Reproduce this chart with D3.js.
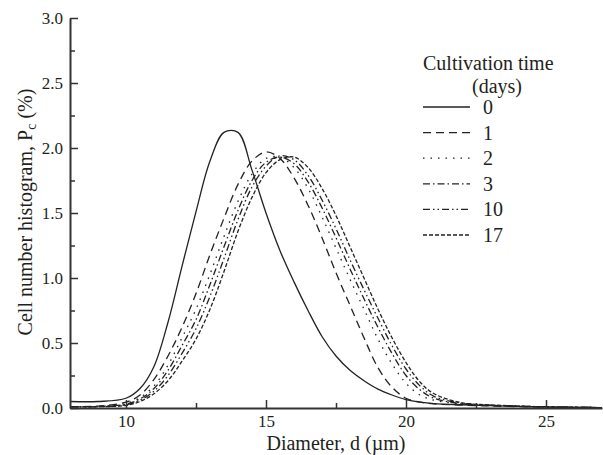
<!DOCTYPE html>
<html>
<head>
<meta charset="utf-8">
<title>Cell number histogram</title>
<script src="https://d3js.org/d3.v7.min.js"></script>
<style>
  body { margin: 0; background: #fff; }
</style>
</head>
<body>
<div id="chart"></div>
<script>
// diameter grid (um) and histogram values (%) per cultivation time
const diam = [8, 9, 10, 10.5, 11, 11.5, 12, 12.5, 13, 13.5, 14, 14.5, 15, 15.5, 16, 16.5, 17, 17.5, 18, 18.5, 19, 19.5, 20, 20.5, 21, 22, 23, 24, 25, 26, 27];
const day0  = [0.05, 0.05, 0.075, 0.15, 0.32, 0.66, 1.09, 1.51, 1.90, 2.12, 2.12, 1.83, 1.50, 1.21, 0.97, 0.75, 0.55, 0.40, 0.29, 0.21, 0.145, 0.10, 0.065, 0.045, 0.034, 0.025, 0.018, 0.012, 0.008, 0.005, 0.003];
const day1  = [0.01, 0.015, 0.045, 0.10, 0.22, 0.40, 0.62, 0.88, 1.18, 1.46, 1.72, 1.90, 1.97, 1.92, 1.77, 1.56, 1.31, 1.04, 0.79, 0.54, 0.31, 0.16, 0.075, 0.045, 0.032, 0.022, 0.016, 0.011, 0.007, 0.005, 0.003];
const day2  = [0.01, 0.012, 0.035, 0.08, 0.17, 0.33, 0.54, 0.76, 1.03, 1.32, 1.59, 1.80, 1.92, 1.93, 1.85, 1.69, 1.47, 1.23, 0.99, 0.76, 0.53, 0.34, 0.19, 0.10, 0.06, 0.03, 0.02, 0.013, 0.008, 0.005, 0.003];
const day3  = [0.01, 0.012, 0.03, 0.07, 0.15, 0.29, 0.48, 0.68, 0.95, 1.24, 1.52, 1.75, 1.89, 1.93, 1.88, 1.74, 1.54, 1.31, 1.07, 0.84, 0.62, 0.42, 0.25, 0.14, 0.075, 0.033, 0.02, 0.013, 0.008, 0.005, 0.003];
const day10 = [0.008, 0.01, 0.025, 0.06, 0.13, 0.25, 0.42, 0.61, 0.86, 1.15, 1.45, 1.70, 1.86, 1.94, 1.91, 1.79, 1.60, 1.38, 1.14, 0.91, 0.69, 0.48, 0.30, 0.17, 0.09, 0.037, 0.022, 0.014, 0.009, 0.005, 0.003];
const day17 = [0.008, 0.01, 0.02, 0.05, 0.11, 0.21, 0.36, 0.53, 0.76, 1.05, 1.36, 1.62, 1.81, 1.91, 1.93, 1.85, 1.69, 1.48, 1.24, 1.00, 0.76, 0.54, 0.35, 0.20, 0.11, 0.04, 0.024, 0.015, 0.009, 0.006, 0.003];

const seriesNames = ["0", "1", "2", "3", "10", "17"];
const seriesValues = [day0, day1, day2, day3, day10, day17];
const dashes = ["none", "8,5", "1.5,6", "7,3,1.5,3", "7,3,1.5,3,1.5,3", "4,2"];

const xMajor = [10, 15, 20, 25];
const xMinor = [12.5, 17.5, 22.5];
const yMajor = [0, 0.5, 1, 1.5, 2, 2.5, 3];
const yMinor = [0.25, 0.75, 1.25, 1.75, 2.25, 2.75];

const serif = "Liberation Serif, Tinos, serif";
const width = 603, height = 455;
const svg = d3.select("#chart").append("svg")
    .attr("width", width).attr("height", height)
    .attr("font-family", serif);

const x = d3.scaleLinear().domain([8, 27]).range([70, 602]);
const y = d3.scaleLinear().domain([0, 3]).range([408, 18]);

svg.append("clipPath").attr("id", "plot")
  .append("rect").attr("x", 70).attr("y", 10).attr("width", 533).attr("height", 398);

// curves
const line = d3.line()
    .x(d => x(d[0])).y(d => y(d[1]))
    .curve(d3.curveCatmullRom.alpha(0.5));

seriesValues.forEach(function (vals, i) {
  svg.append("path")
    .datum(diam.map((d, j) => [d, vals[j]]))
    .attr("clip-path", "url(#plot)")
    .attr("fill", "none")
    .attr("stroke", "#222")
    .attr("stroke-width", 1.3)
    .attr("stroke-dasharray", dashes[i])
    .attr("d", line);
});

// axes
function styleAxis(g) {
  g.attr("font-family", serif).attr("font-size", 17);
  g.selectAll("path, line").attr("stroke", "#333");
  g.select(".domain").attr("stroke-width", 2);
  g.selectAll(".tick line").attr("stroke-width", 1.5);
  g.selectAll("text").attr("fill", "#231f20");
}

svg.append("g").attr("transform", "translate(0,408)")
  .call(d3.axisBottom(x).tickValues(xMinor).tickSize(-5).tickSizeOuter(0).tickFormat(""))
  .call(g => g.select(".domain").remove())
  .call(styleAxis);
svg.append("g").attr("transform", "translate(0,408)")
  .call(d3.axisBottom(x).tickValues(xMajor).tickSize(-8).tickSizeOuter(0).tickPadding(7).tickFormat(d3.format("d")))
  .call(styleAxis);

svg.append("g").attr("transform", "translate(70,0)")
  .call(d3.axisLeft(y).tickValues(yMinor).tickSize(-5).tickSizeOuter(0).tickFormat(""))
  .call(g => g.select(".domain").remove())
  .call(styleAxis);
svg.append("g").attr("transform", "translate(70,0)")
  .call(d3.axisLeft(y).tickValues(yMajor).tickSize(-8).tickSizeOuter(0).tickPadding(7).tickFormat(d3.format(".1f")))
  .call(styleAxis);

// axis titles
svg.append("text")
  .attr("x", 336).attr("y", 450)
  .attr("text-anchor", "middle").attr("font-size", 20).attr("fill", "#231f20")
  .text("Diameter, d (\u00b5m)");

const yt = svg.append("text")
  .attr("transform", "translate(32,212) rotate(-90)")
  .attr("text-anchor", "middle").attr("font-size", 20).attr("fill", "#231f20");
yt.append("tspan").text("Cell number histogram, P");
yt.append("tspan").attr("font-size", 14).attr("dy", 4).text("c");
yt.append("tspan").attr("dy", -4).text(" (%)");

// legend
const lg = svg.append("g").attr("fill", "#231f20").attr("font-size", 20);
lg.append("text").attr("x", 423).attr("y", 70).text("Cultivation time");
lg.append("text").attr("x", 497).attr("y", 93).attr("text-anchor", "middle").text("(days)");
seriesNames.forEach(function (name, i) {
  const yy = 107 + i * 25.6;
  lg.append("line")
    .attr("x1", 423).attr("x2", 470).attr("y1", yy).attr("y2", yy)
    .attr("stroke", "#222").attr("stroke-width", 1.3)
    .attr("stroke-dasharray", dashes[i]);
  lg.append("text").attr("x", 483).attr("y", yy + 7).text(name);
});
</script>
</body>
</html>
